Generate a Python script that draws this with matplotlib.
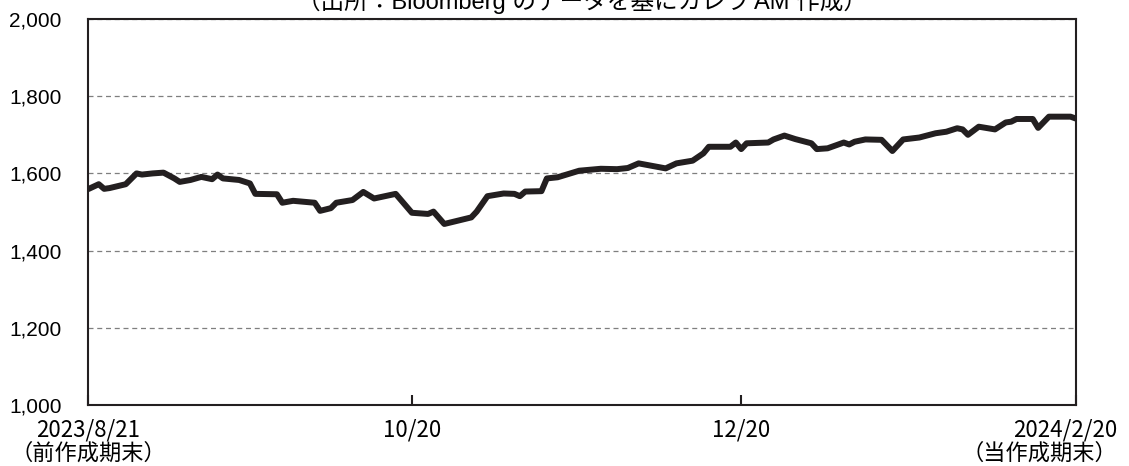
import matplotlib
matplotlib.use('Agg')
import matplotlib.pyplot as plt
import matplotlib.transforms as mtransforms
import pandas as pd
from matplotlib.ticker import FuncFormatter

# index level (vertices of the line)
dates = [
    '2023-08-21', '2023-08-23', '2023-08-24', '2023-08-25', '2023-08-28',
    '2023-08-30', '2023-08-31', '2023-09-02', '2023-09-04', '2023-09-06',
    '2023-09-07', '2023-09-09', '2023-09-11', '2023-09-13', '2023-09-14',
    '2023-09-15', '2023-09-18', '2023-09-20', '2023-09-21', '2023-09-25',
    '2023-09-26', '2023-09-28', '2023-10-02', '2023-10-03', '2023-10-05',
    '2023-10-06', '2023-10-09', '2023-10-11', '2023-10-13', '2023-10-17',
    '2023-10-20', '2023-10-23', '2023-10-24', '2023-10-26', '2023-10-31',
    '2023-11-01', '2023-11-03', '2023-11-06', '2023-11-08', '2023-11-09',
    '2023-11-10', '2023-11-13', '2023-11-14', '2023-11-16', '2023-11-20',
    '2023-11-24', '2023-11-27', '2023-11-29', '2023-12-01', '2023-12-06',
    '2023-12-08', '2023-12-11', '2023-12-13', '2023-12-14', '2023-12-18',
    '2023-12-19', '2023-12-20', '2023-12-21', '2023-12-25', '2023-12-26',
    '2023-12-28', '2023-12-30', '2024-01-02', '2024-01-03', '2024-01-05',
    '2024-01-08', '2024-01-09', '2024-01-10', '2024-01-12', '2024-01-15',
    '2024-01-17', '2024-01-19', '2024-01-22', '2024-01-25', '2024-01-27',
    '2024-01-29', '2024-01-30', '2024-01-31', '2024-02-02', '2024-02-05',
    '2024-02-07', '2024-02-08', '2024-02-09', '2024-02-12', '2024-02-13',
    '2024-02-15', '2024-02-19', '2024-02-20',
]
values = [
    1559, 1572, 1560, 1562, 1572,
    1600, 1597, 1600, 1602, 1587,
    1578, 1583, 1591, 1585, 1597,
    1587, 1583, 1574, 1547, 1546,
    1524, 1529, 1524, 1503, 1510,
    1524, 1531, 1552, 1535, 1547,
    1498, 1495, 1501, 1469, 1486,
    1501, 1541, 1548, 1547, 1541,
    1553, 1554, 1587, 1590, 1607,
    1612, 1611, 1614, 1626, 1613,
    1626, 1633, 1652, 1669, 1669,
    1680, 1663, 1678, 1680, 1688,
    1698, 1689, 1678, 1663, 1665,
    1680, 1675, 1682, 1688, 1687,
    1658, 1688, 1693, 1704, 1708,
    1717, 1714, 1700, 1721, 1714,
    1732, 1734, 1741, 1741, 1718,
    1747, 1747, 1742,
]

tick_dates = ['2023-08-21', '2023-10-20', '2023-12-20', '2024-02-20']
tick_labels = ['2023/8/21\n（前作成期末）', '10/20', '12/20',
               '2024/2/20\n（当作成期末）']
y_ticks = [1000, 1200, 1400, 1600, 1800, 2000]

title = '（出所：Bloomberg のデータを基にカレラ AM 作成）'

ink = '#231f20'
jp_font = ['Noto Sans CJK JP', 'DejaVu Sans']
num_font = ['Liberation Sans', 'Noto Sans CJK JP']

fig = plt.figure(figsize=(11.29, 4.66), dpi=100)
ax = fig.add_axes([0.0779, 0.1309, 0.8751, 0.8283])

ax.plot(pd.to_datetime(dates), values, color=ink, lw=4.3,
        solid_joinstyle='round', solid_capstyle='butt', zorder=3)

ax.set_xlim(pd.Timestamp(tick_dates[0]), pd.Timestamp(tick_dates[-1]))
ax.set_ylim(y_ticks[0], y_ticks[-1])

ax.set_yticks(y_ticks)
ax.yaxis.set_major_formatter(FuncFormatter(lambda v, p: f'{v:,.0f}'))
for lab in ax.get_yticklabels():
    lab.set_fontfamily(num_font)
    lab.set_fontsize(15)
ax.tick_params(axis='y', length=0, pad=19, labelcolor='black')

ax.set_xticks(pd.to_datetime(tick_dates))
ax.set_xticklabels(tick_labels, fontfamily=jp_font, fontsize=16,
                   linespacing=1.0)
ax.tick_params(axis='x', direction='in', length=7, width=1.5,
               color=ink, pad=10)

last = ax.get_xticklabels()[-1]
last.set_horizontalalignment('right')
last.set_multialignment('right')
last.set_transform(last.get_transform() + mtransforms.ScaledTranslation(
    41 / 100, 0, fig.dpi_scale_trans))

ax.grid(axis='y', color='#7f7f7f', linestyle=(0, (4, 3)), lw=0.9)
ax.set_axisbelow(True)
for sp in ax.spines.values():
    sp.set_color(ink)
    sp.set_linewidth(1.5)

fig.text(0.5155, 1 - 9.5 / 466, title, ha='center', va='baseline',
         fontsize=17, fontfamily=num_font)

fig.savefig('out.png', dpi=100)
